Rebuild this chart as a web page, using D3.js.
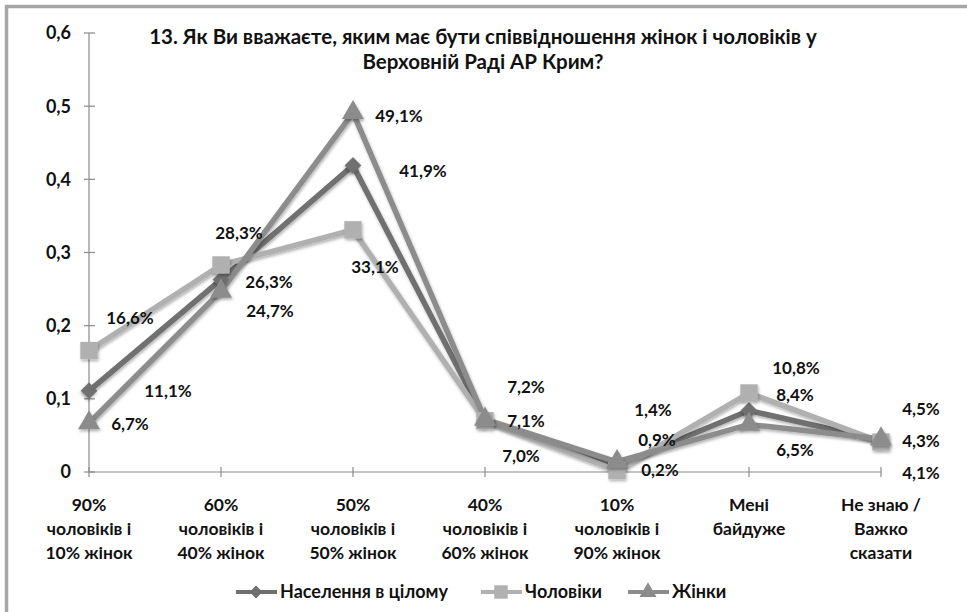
<!DOCTYPE html>
<html>
<head>
<meta charset="utf-8">
<script src="https://cdn.jsdelivr.net/npm/d3@7"></script>
<style>
  body { margin: 0; background: #fff; }
  svg { display: block; font-family: Lato, "Open Sans", sans-serif; font-weight: bold; }
</style>
</head>
<body>
<div id="chart"></div>
<script>
const categories = [
  ['90%', 'чоловіків і', '10% жінок'],
  ['60%', 'чоловіків і', '40% жінок'],
  ['50%', 'чоловіків і', '50% жінок'],
  ['40%', 'чоловіків і', '60% жінок'],
  ['10%', 'чоловіків і', '90% жінок'],
  ['Мені', 'байдуже'],
  ['Не знаю /', 'Важко', 'сказати'],
];
const population = [0.111, 0.263, 0.419, 0.071, 0.009, 0.084, 0.043];
const men = [0.166, 0.283, 0.331, 0.070, 0.002, 0.108, 0.041];
const women = [0.067, 0.247, 0.491, 0.072, 0.014, 0.065, 0.045];
const yTicks = [0, 0.1, 0.2, 0.3, 0.4, 0.5, 0.6];

// label nudges (dx, dy) from each point, per series
const labelNudge = {
  population: [[79, 0], [48, 2], [70, 5], [41, 1], [40, -26], [46, -16], [40, 0]],
  men: [[41, -33], [18, -32], [22, 37], [36, 35], [43, -1], [47, -25], [40, 31]],
  women: [[41, 1], [49, 20], [46, 3], [41, -32], [36, -52], [46, 25], [40, -30]],
};

const series = [
  { key: 'population', name: 'Населення в цілому', values: population, color: '#6f6f6f', shape: d3.symbolSquare, rotate: 45, size: 140 },
  { key: 'men', name: 'Чоловіки', values: men, color: '#b0b0b0', shape: d3.symbolSquare, rotate: 0, size: 300 },
  { key: 'women', name: 'Жінки', values: women, color: '#8c8c8c', shape: d3.symbolTriangle, rotate: 0, size: 210 },
];

const width = 967, height = 612;
const svg = d3.select('#chart').append('svg').attr('width', width).attr('height', height);

// outer frame (only top/left visible in the crop)
svg.append('path').attr('d', `M6.5,${height} V6.5 H${width}`)
  .attr('fill', 'none').attr('stroke', '#a6a6a6').attr('stroke-width', 3.5);

const x = d3.scalePoint().domain(d3.range(categories.length)).range([89, 881]);
const y = d3.scaleLinear().domain([0, 0.6]).range([472, 33]);

// y axis
svg.append('line').attr('x1', 89).attr('x2', 89).attr('y1', y(0.6)).attr('y2', y(0))
  .attr('stroke', '#8a8a8a').attr('stroke-width', 1.2);
svg.selectAll('.ytick').data(yTicks).join('line')
  .attr('x1', 84).attr('x2', 95).attr('y1', (d) => y(d)).attr('y2', (d) => y(d))
  .attr('stroke', '#8a8a8a').attr('stroke-width', 1.2);
svg.selectAll('.ylab').data(yTicks).join('text')
  .attr('x', 71).attr('y', (d) => y(d)).attr('dy', '0.36em')
  .attr('text-anchor', 'end').attr('font-size', 18).attr('fill', '#111')
  .text((d) => (d === 0 ? '0' : d3.format('.1f')(d).replace('.', ',')));

// x axis
svg.append('line').attr('x1', x(0)).attr('x2', x(categories.length - 1)).attr('y1', y(0)).attr('y2', y(0))
  .attr('stroke', '#8a8a8a').attr('stroke-width', 1.2);
svg.selectAll('.xtick').data(d3.range(categories.length)).join('line')
  .attr('x1', (d) => x(d)).attr('x2', (d) => x(d)).attr('y1', y(0) - 5).attr('y2', y(0) + 5)
  .attr('stroke', '#8a8a8a').attr('stroke-width', 1.2);
const xl = svg.selectAll('.xlab').data(categories).join('text')
  .attr('text-anchor', 'middle').attr('font-size', 17.5).attr('fill', '#111');
xl.each(function (lines, i) {
  d3.select(this).selectAll('tspan').data(lines).join('tspan')
    .attr('x', x(i)).attr('y', (d, j) => 511 + j * 24).text((d) => d);
});

// title
svg.append('text').attr('x', 483).attr('y', 44).attr('text-anchor', 'middle')
  .attr('font-size', 20.5).attr('fill', '#111')
  .text('13. Як Ви вважаєте, яким має бути співвідношення жінок і чоловіків у');
svg.append('text').attr('x', 483).attr('y', 69).attr('text-anchor', 'middle')
  .attr('font-size', 20.5).attr('fill', '#111')
  .text('Верховній Раді АР Крим?');

const defs = svg.append('defs');
defs.append('filter').attr('id', 'shadow').attr('x', '-50%').attr('y', '-50%').attr('width', '200%').attr('height', '200%')
  .append('feDropShadow').attr('dx', 1).attr('dy', 2).attr('stdDeviation', 1.5).attr('flood-color', '#000').attr('flood-opacity', 0.3);

const line = d3.line().x((d, i) => x(i)).y((d) => y(d));

series.forEach((s) => {
  svg.append('path').attr('d', line(s.values)).attr('fill', 'none')
    .attr('stroke', s.color).attr('stroke-width', 5.5).attr('stroke-linejoin', 'miter')
    .attr('filter', 'url(#shadow)');
});
series.forEach((s) => {
  svg.append('g').selectAll('path').data(s.values).join('path')
    .attr('transform', (d, i) => `translate(${x(i)},${y(d)}) rotate(${s.rotate})`)
    .attr('d', d3.symbol().type(s.shape).size(s.size))
    .attr('fill', s.color).attr('filter', 'url(#shadow)');
});

// data labels
series.forEach((s) => {
  svg.append('g').selectAll('text').data(s.values).join('text')
    .attr('x', (d, i) => x(i) + labelNudge[s.key][i][0])
    .attr('y', (d, i) => y(d) + labelNudge[s.key][i][1])
    .attr('dy', '0.36em').attr('text-anchor', 'middle')
    .attr('font-size', 17).attr('fill', '#111')
    .text((d) => d3.format('.1f')(d * 100).replace('.', ',') + '%');
});

// legend
const legendX = [236, 481, 628];
series.forEach((s, i) => {
  const g = svg.append('g').attr('transform', `translate(${legendX[i]},592)`);
  g.append('line').attr('x1', 0).attr('x2', 41).attr('stroke', s.color).attr('stroke-width', 4);
  g.append('path').attr('transform', `translate(20,0) rotate(${s.rotate})`)
    .attr('d', d3.symbol().type(s.shape).size(s.size * 0.6)).attr('fill', s.color);
  g.append('text').attr('x', 44).attr('dy', '0.36em').attr('font-size', 18).attr('fill', '#111').text(s.name);
});
</script>
</body>
</html>
